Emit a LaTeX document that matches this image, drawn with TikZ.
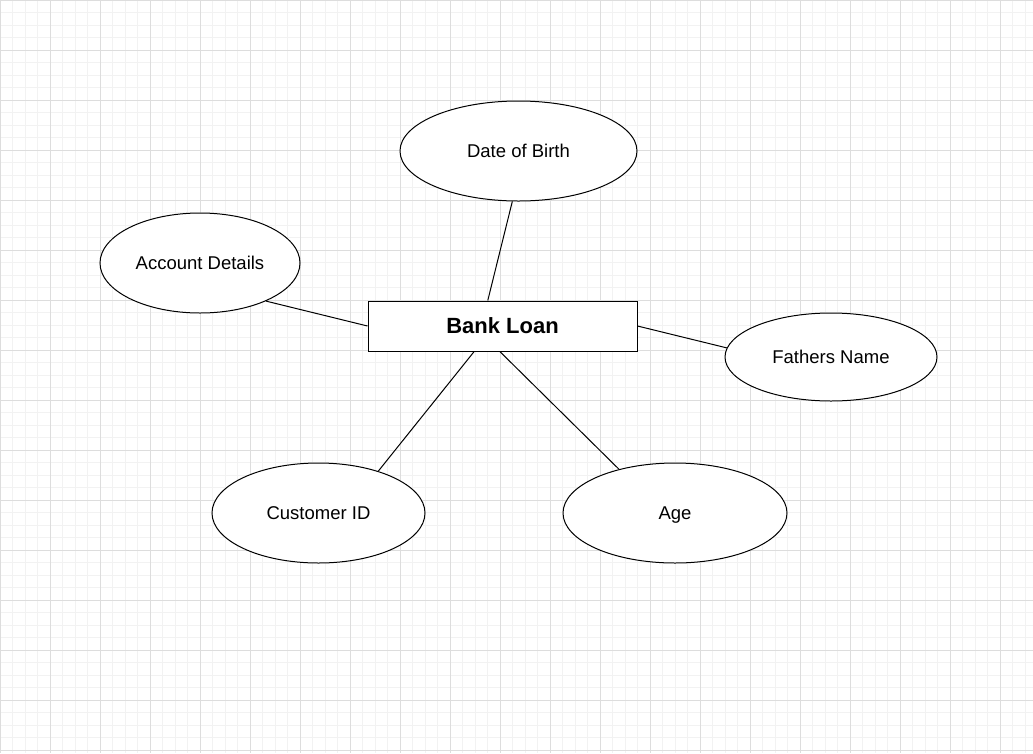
\documentclass[tikz,border=0pt]{standalone}
\usepackage{fontspec}
\setmainfont{Liberation Sans}
\usepackage{tikz}
\usetikzlibrary{shapes.geometric}
\definecolor{gridminor}{HTML}{F2F2F2}
\definecolor{gridmajor}{HTML}{DDDDDD}
\tikzset{
  attr/.style={ellipse, draw=black, fill=white, line width=1pt, inner sep=0pt,
               text height=13.5pt, text depth=0pt,
               font=\fontsize{18.5}{21}\selectfont},
  entity/.style={rectangle, draw=black, fill=white, line width=1pt,
                 minimum width=269pt, minimum height=50pt,
                 font=\bfseries\fontsize{22}{25}\selectfont},
  link/.style={draw=black, line width=1pt},
  minorline/.style={draw=gridminor, line width=1pt},
  majorline/.style={draw=gridmajor, line width=1pt},
}

\begin{document}
\begin{tikzpicture}[x=1pt, y=-1pt]
  \useasboundingbox (0,0) rectangle (1033,753);
  \fill[white] (0,0) rectangle (1033,753);
  % grid
  \foreach \i in {0,...,82} \draw[minorline] (\i*12.5,0) -- (\i*12.5,753);
  \foreach \j in {0,...,60} \draw[minorline] (0,\j*12.5) -- (1033,\j*12.5);
  \foreach \i in {0,...,20} \draw[majorline] (\i*50,0) -- (\i*50,753);
  \foreach \j in {0,...,15} \draw[majorline] (0,\j*50) -- (1033,\j*50);

  \node[entity] (bank) at (502.5,326) {Bank Loan};

  \node[attr, minimum width=237pt, minimum height=100pt] (dob) at (518.5,151) {Date of Birth};
  \node[attr, minimum width=200pt, minimum height=100pt] (acct) at (200,263) {Account Details};
  \node[attr, minimum width=212pt, minimum height=88pt] (father) at (831,357) {Fathers Name};
  \node[attr, minimum width=213pt, minimum height=100pt] (cust) at (318.5,513) {Customer ID};
  \node[attr, minimum width=224pt, minimum height=100pt] (age) at (675,513) {Age};

  \draw[link] (dob.263) -- (bank.120);
  \draw[link] (acct.330) -- (bank.180);
  \draw[link] (father.175) -- (bank.0);
  \draw[link] (cust.35) -- (bank.222);
  \draw[link] (age.142) -- (bank.264);
\end{tikzpicture}
\end{document}
